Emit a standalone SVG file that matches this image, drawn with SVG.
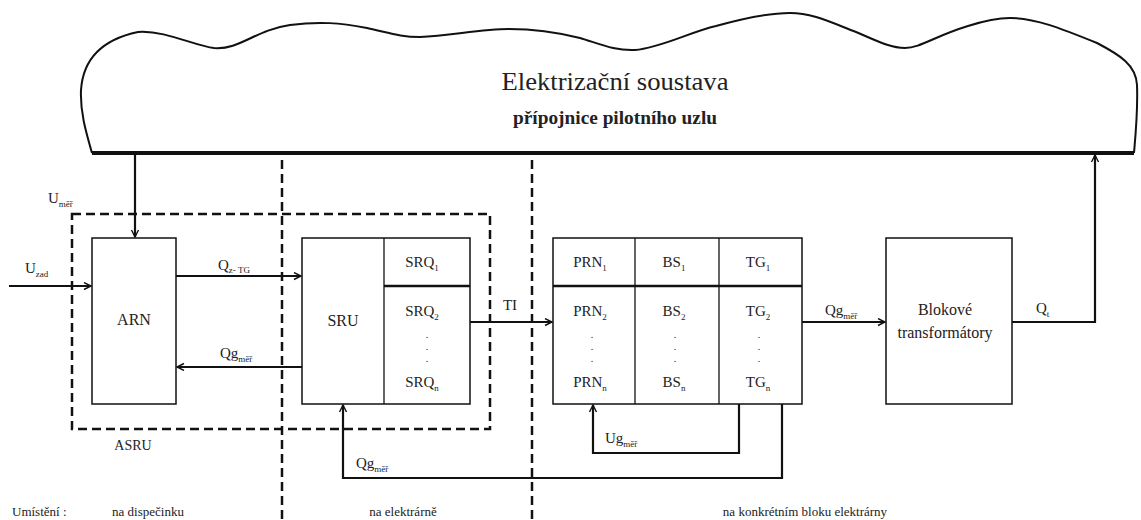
<svg xmlns="http://www.w3.org/2000/svg" width="1141" height="520" viewBox="0 0 1141 520">
<defs>
<style>
text{font-family:"Times New Roman",Times,Tinos,"Liberation Serif","DejaVu Serif","Noto Serif",serif;fill:#222;}
.lbl{font-size:15px;}
.big{font-size:16px;}
.sub{font-size:9px;}
.box{fill:#fff;stroke:#111;stroke-width:1.5;}
.div{stroke:#111;stroke-width:1.3;fill:none;}
.thick{stroke:#111;stroke-width:2.5;fill:none;}
.wire{stroke:#111;stroke-width:2.2;fill:none;}
.dash{stroke:#111;stroke-width:2.5;fill:none;stroke-dasharray:9 5;}
.mid{text-anchor:middle;}
</style>
<marker id="ah" markerWidth="10" markerHeight="10" refX="8" refY="4" orient="auto" markerUnits="userSpaceOnUse">
<path d="M1,0.5 L8,4 L1,7.5" fill="none" stroke="#111" stroke-width="1.4"/>
</marker>
</defs>

<g id="cloud">
<path d="M92,153 C86,132 80,112 81,90 C83,60 100,40 138,32 C165,30 195,46 214,48 C240,50 255,30 290,25 C320,21 340,23 367,28 C390,33 400,37 420,37 C450,36 480,29 509,29 C535,29 560,33 580,38 C600,44 615,51 635,50 C660,48 690,32 716,26 C745,18 770,13 790,13 C812,13 830,22 856,32 C875,40 890,48 905,48 C920,48 935,36 968,26 C990,19 1000,18 1010,18 C1035,18 1060,28 1097,43 C1120,55 1136,65 1137,85 C1138,110 1136,130 1134,153" fill="none" stroke="#111" stroke-width="2"/>
<line x1="92" y1="153" x2="1134" y2="153" stroke="#111" stroke-width="4"/>
<text x="615" y="90" class="mid" font-size="26" textLength="227" lengthAdjust="spacingAndGlyphs">Elektrizační soustava</text>
<text x="615" y="124" class="mid" font-size="18" font-weight="bold" textLength="204" lengthAdjust="spacingAndGlyphs">přípojnice pilotního uzlu</text>
</g>

<g id="zones">
<line x1="282" y1="160" x2="282" y2="520" class="dash"/>
<line x1="532" y1="160" x2="532" y2="520" class="dash"/>
</g>

<g id="asru">
<rect x="72" y="214" width="418" height="215" class="dash"/>
<text x="133" y="450" class="mid" font-size="14">ASRU</text>
</g>

<g id="arn">
<rect x="92" y="238" width="84" height="166" class="box"/>
<text x="134" y="325" class="mid big">ARN</text>
</g>

<g id="sru">
<rect x="302" y="238" width="168" height="166" class="box"/>
<line x1="384" y1="238" x2="384" y2="404" class="div"/>
<line x1="384" y1="286" x2="470" y2="286" class="thick"/>
<text x="343" y="326" class="mid big">SRU</text>
<text x="422" y="267" class="mid lbl">SRQ<tspan class="sub" dy="4">1</tspan></text>
<text x="422" y="316" class="mid lbl">SRQ<tspan class="sub" dy="4">2</tspan></text>
<text x="427" y="338" class="mid" font-size="10">.</text>
<text x="427" y="350" class="mid" font-size="10">.</text>
<text x="427" y="362" class="mid" font-size="10">.</text>
<text x="422" y="387" class="mid lbl">SRQ<tspan class="sub" dy="4">n</tspan></text>
</g>

<g id="units">
<rect x="553" y="238" width="249" height="166" class="box"/>
<line x1="635" y1="238" x2="635" y2="404" class="div"/>
<line x1="719" y1="238" x2="719" y2="404" class="div"/>
<line x1="553" y1="286" x2="802" y2="286" class="thick"/>
<text x="590" y="267" class="mid lbl">PRN<tspan class="sub" dy="4">1</tspan></text>
<text x="674" y="267" class="mid lbl">BS<tspan class="sub" dy="4">1</tspan></text>
<text x="758" y="267" class="mid lbl">TG<tspan class="sub" dy="4">1</tspan></text>
<text x="590" y="316" class="mid lbl">PRN<tspan class="sub" dy="4">2</tspan></text>
<text x="674" y="316" class="mid lbl">BS<tspan class="sub" dy="4">2</tspan></text>
<text x="758" y="316" class="mid lbl">TG<tspan class="sub" dy="4">2</tspan></text>
<text x="592" y="338" class="mid" font-size="10">.</text>
<text x="592" y="350" class="mid" font-size="10">.</text>
<text x="592" y="362" class="mid" font-size="10">.</text>
<text x="675" y="338" class="mid" font-size="10">.</text>
<text x="675" y="350" class="mid" font-size="10">.</text>
<text x="675" y="362" class="mid" font-size="10">.</text>
<text x="759" y="338" class="mid" font-size="10">.</text>
<text x="759" y="350" class="mid" font-size="10">.</text>
<text x="759" y="362" class="mid" font-size="10">.</text>
<text x="590" y="387" class="mid lbl">PRN<tspan class="sub" dy="4">n</tspan></text>
<text x="674" y="387" class="mid lbl">BS<tspan class="sub" dy="4">n</tspan></text>
<text x="758" y="387" class="mid lbl">TG<tspan class="sub" dy="4">n</tspan></text>
</g>

<g id="trafo">
<rect x="886" y="238" width="126" height="166" class="box"/>
<text x="945" y="315" class="mid big">Blokové</text>
<text x="945" y="338" class="mid big">transformátory</text>
</g>

<g id="connectors">
<line x1="135" y1="155" x2="135" y2="237" class="wire" marker-end="url(#ah)"/>
<line x1="9" y1="286" x2="91" y2="286" class="wire" marker-end="url(#ah)"/>
<line x1="176" y1="276" x2="301" y2="276" class="wire" marker-end="url(#ah)"/>
<line x1="302" y1="367" x2="177" y2="367" class="wire" marker-end="url(#ah)"/>
<line x1="470" y1="322" x2="552" y2="322" class="wire" marker-end="url(#ah)"/>
<line x1="802" y1="322" x2="885" y2="322" class="wire" marker-end="url(#ah)"/>
<polyline points="1012,322 1095,322 1095,155" class="wire" marker-end="url(#ah)"/>
<polyline points="739,404 739,453 593,453 593,405" class="wire" marker-end="url(#ah)"/>
<polyline points="782,404 782,478 343,478 343,405" class="wire" marker-end="url(#ah)"/>
</g>

<g id="labels">
<text x="48" y="203" class="lbl">U<tspan class="sub" dy="4">měř</tspan></text>
<text x="25" y="273" class="lbl">U<tspan class="sub" dy="4">zad</tspan></text>
<text x="218" y="270" class="lbl">Q<tspan class="sub" dy="3">z- TG</tspan></text>
<text x="220" y="358" class="lbl">Qg<tspan class="sub" dy="4">měř</tspan></text>
<text x="510" y="310" class="mid lbl">TI</text>
<text x="825" y="315" class="lbl">Qg<tspan class="sub" dy="4">měř</tspan></text>
<text x="1036" y="313" class="lbl">Q<tspan class="sub" dy="4">t</tspan></text>
<text x="605" y="443" class="lbl">Ug<tspan class="sub" dy="4">měř</tspan></text>
<text x="356" y="468" class="lbl">Qg<tspan class="sub" dy="4">měř</tspan></text>
<text x="12" y="516" font-size="13">Umístění :</text>
<text x="148" y="516" class="mid" font-size="13">na dispečinku</text>
<text x="403" y="516" class="mid" font-size="13">na elektrárně</text>
<text x="805" y="516" class="mid" font-size="13">na konkrétním bloku elektrárny</text>
</g>
</svg>
